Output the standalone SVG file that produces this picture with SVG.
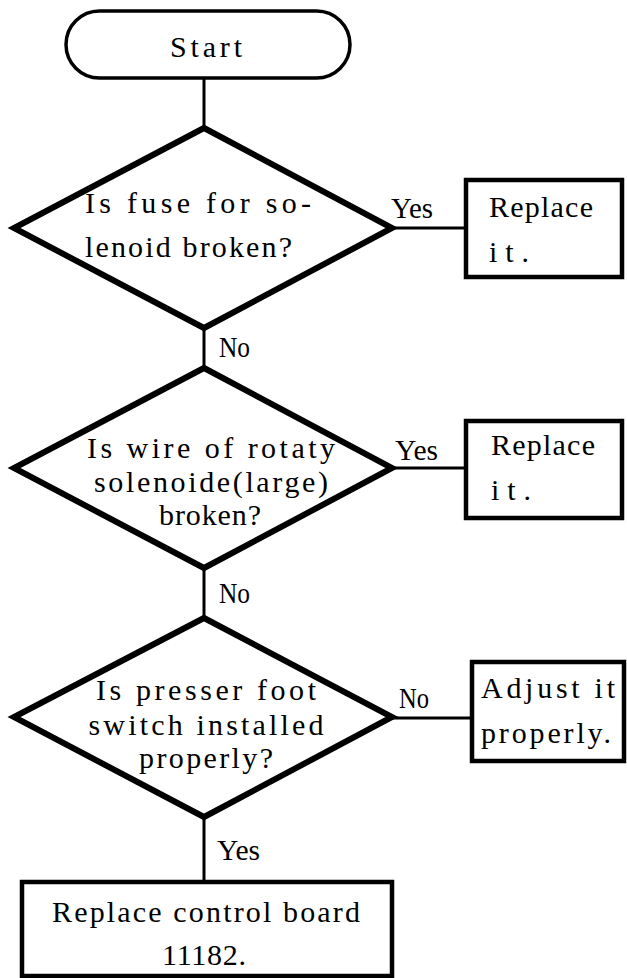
<svg xmlns="http://www.w3.org/2000/svg" width="627" height="978" viewBox="0 0 627 978">
<style>
.t{font-family:"Liberation Serif","Times New Roman",serif;font-size:30px;fill:#000}
.m{text-anchor:middle}
.dia{fill:none;stroke:#000;stroke-width:6;stroke-linejoin:miter}
.box{fill:none;stroke:#000;stroke-width:4.5}
.term{fill:none;stroke:#000;stroke-width:3.5}
.con{stroke:#000;stroke-width:3;fill:none}
</style>
<rect width="627" height="978" fill="#fff"/>
<g id="connectors">
<line class="con" x1="204" y1="78" x2="204" y2="128"/>
<line class="con" x1="204" y1="328" x2="204" y2="368"/>
<line class="con" x1="392" y1="228" x2="466" y2="228"/>
<line class="con" x1="204" y1="568" x2="204" y2="618"/>
<line class="con" x1="392" y1="468" x2="466" y2="468"/>
<line class="con" x1="204" y1="817" x2="204" y2="882"/>
<line class="con" x1="392" y1="718" x2="472" y2="718"/>
<text class="t" x="391" y="218" textLength="42" lengthAdjust="spacingAndGlyphs">Yes</text>
<text class="t" x="219" y="357" textLength="31" lengthAdjust="spacingAndGlyphs">No</text>
<text class="t" x="395" y="460" textLength="43" lengthAdjust="spacingAndGlyphs">Yes</text>
<text class="t" x="219" y="603" textLength="31" lengthAdjust="spacingAndGlyphs">No</text>
<text class="t" x="399" y="708" textLength="30" lengthAdjust="spacingAndGlyphs">No</text>
<text class="t" x="217" y="860" textLength="43" lengthAdjust="spacingAndGlyphs">Yes</text>
</g>
<g id="start">
<rect class="term" x="66" y="11" width="284" height="67" rx="33.5"/>
<text class="t m" x="206" y="57" textLength="72">Start</text>
</g>
<g id="d1">
<polygon class="dia" points="204,128 392,228 204,328 14,228"/>
<text class="t" x="85" y="213" textLength="226">Is fuse for so-</text>
<text class="t" x="85" y="257" textLength="207">lenoid broken?</text>
</g>
<g id="b1">
<rect class="box" x="466" y="180" width="156" height="97"/>
<text class="t" x="489" y="217" textLength="104">Replace</text>
<text class="t" x="489" y="262" textLength="40">it.</text>
</g>
<g id="d2">
<polygon class="dia" points="204,368 392,468 204,568 14,468"/>
<text class="t m" x="211" y="458" textLength="248">Is wire of rotaty</text>
<text class="t m" x="211" y="492" textLength="234">solenoide(large)</text>
<text class="t m" x="210" y="525" textLength="102">broken?</text>
</g>
<g id="b2">
<rect class="box" x="466" y="421" width="156" height="97"/>
<text class="t" x="491" y="455" textLength="104">Replace</text>
<text class="t" x="491" y="500" textLength="40">it.</text>
</g>
<g id="d3">
<polygon class="dia" points="204,618 392,717 204,817 14,717"/>
<text class="t m" x="206" y="700" textLength="220">Is presser foot</text>
<text class="t m" x="206" y="735" textLength="235">switch installed</text>
<text class="t m" x="206" y="768" textLength="134">properly?</text>
</g>
<g id="b3">
<rect class="box" x="472" y="662" width="152" height="99"/>
<text class="t" x="481" y="698" textLength="134">Adjust it</text>
<text class="t" x="481" y="743" textLength="130">properly.</text>
</g>
<g id="b4">
<rect class="box" x="22" y="882" width="370" height="94"/>
<text class="t m" x="206" y="922" textLength="308">Replace control board</text>
<text class="t m" x="204" y="965" textLength="84">11182.</text>
</g>
</svg>
